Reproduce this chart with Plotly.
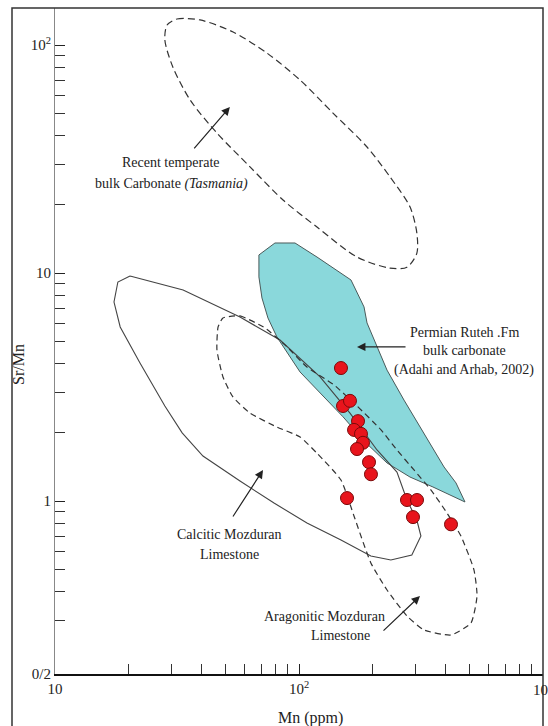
import numpy as np
import plotly.graph_objects as go

# ---- data (Mn in ppm, Sr/Mn ratio) ----
sample_mn = [148.6, 151.5, 161.8, 174.5, 168.1, 179.5, 182.9, 172.9, 193.6, 197.2,
             157.3, 277.1, 304.5, 293.2, 419.7]
sample_srmn = [3.83, 2.61, 2.75, 2.24, 2.05, 1.97, 1.80, 1.69, 1.48, 1.31,
               1.03, 1.01, 1.01, 0.85, 0.79]

# Recent temperate bulk carbonate (Tasmania) field
tas_mn = [28.8, 31.6, 39.3, 53.7, 73.9, 101, 137.8, 190, 236, 285, 304, 304, 277, 236,
          172.9, 118.5, 86, 63, 46.1, 35.8, 30.4, 28.2, 28.8]
tas_srmn = [122.4, 130, 128.8, 114, 92.2, 70.2, 50.3, 35.7, 26.4, 19.5, 15.0, 12.2, 10.6,
            10.5, 11.75, 15.9, 20.9, 29.2, 41.1, 57.4, 80.1, 105.2, 122.4]

# Permian Ruteh Fm bulk carbonate field
rut_mn = [68.5, 79.7, 96.3, 118.5, 163.3, 184.7, 190, 203, 229.5, 269.4, 325, 393, 440, 479,
          354, 285, 229.5, 186.5, 151.5, 122, 101, 81.2, 74.6, 70.5, 68.5, 68.5]
rut_srmn = [12.0, 13.54, 13.54, 11.75, 9.32, 7.10, 6.04, 5.08, 3.75, 2.77, 1.99, 1.41, 1.20, 0.99,
            1.152, 1.274, 1.468, 1.815, 2.34, 2.98, 3.68, 5.24, 6.35, 7.77, 9.61, 12.0]

# Calcitic Mozduran limestone field
cal_mn = [20.3, 33.5, 57.3, 83.6, 122, 161.8, 208.8, 252, 277, 304, 316, 290, 238, 197,
          148.6, 107.8, 79.0, 57.3, 40.4, 33.2, 28.2, 22.3, 18.5, 17.45, 18.1, 20.3]
cal_srmn = [9.70, 8.42, 6.41, 5.08, 3.50, 2.43, 1.674, 1.34, 1.01, 0.825, 0.702, 0.58, 0.551, 0.574,
            0.674, 0.80, 0.98, 1.224, 1.575, 1.99, 2.61, 4.03, 5.80, 7.46, 9.13, 9.70]

# Aragonitic Mozduran limestone field
ara_mn = [48.8, 57.3, 72.6, 89.3, 107.8, 139.1, 172.9, 216.8, 252, 296, 347.5, 404, 461, 521.5,
          536.5, 507, 419.7, 325, 277, 229.5, 197, 168, 148.6, 118.5, 101, 81.2, 63.0, 53.6,
          48.8, 46.1, 46.6, 48.8]
ara_srmn = [6.35, 6.48, 5.74, 4.74, 3.87, 3.23, 2.61, 2.05, 1.674, 1.368, 1.117, 0.886, 0.702, 0.498,
            0.383, 0.2917, 0.2584, 0.2718, 0.313, 0.407, 0.535, 0.86, 1.236, 1.62, 1.91, 2.11, 2.43,
            2.86, 3.50, 4.60, 5.80, 6.35]

y_bottom = 10 ** -0.7588
y_tickvals = [y_bottom, 1, 10, 100]
y_ticktext = ["0/2", "1", "10", "10<sup>2</sup>"]
y_minor = [0.3, 0.4, 0.5, 0.6, 0.7, 0.8, 0.9, 2, 3, 4, 5, 6, 7, 8, 9,
           20, 30, 40, 50, 60, 70, 80, 90]
x_tickvals = [10, 100, 1000]
x_ticktext = ["10", "10<sup>2</sup>", "10<sup>3</sup>"]
x_minor = [20, 30, 40, 50, 60, 70, 80, 90, 200, 300, 400, 500, 600, 700, 800, 900]

SERIF = "Liberation Serif, Times New Roman, serif"

fig = go.Figure()

fig.add_trace(go.Scatter(x=rut_mn, y=rut_srmn, mode="lines", fill="toself",
                         fillcolor="#8ad8db", line=dict(color="#4a5a5a", width=1),
                         hoverinfo="skip", showlegend=False))
fig.add_trace(go.Scatter(x=cal_mn, y=cal_srmn, mode="lines",
                         line=dict(color="#444444", width=1.1),
                         hoverinfo="skip", showlegend=False))
fig.add_trace(go.Scatter(x=ara_mn, y=ara_srmn, mode="lines",
                         line=dict(color="#333333", width=1.2, dash="6px,4px", shape="spline",
                                   smoothing=0.5),
                         hoverinfo="skip", showlegend=False))
fig.add_trace(go.Scatter(x=tas_mn, y=tas_srmn, mode="lines",
                         line=dict(color="#333333", width=1.2, dash="7px,4px", shape="spline",
                                   smoothing=0.8),
                         hoverinfo="skip", showlegend=False))
fig.add_trace(go.Scatter(x=sample_mn, y=sample_srmn, mode="markers",
                         marker=dict(size=13, color="#e8141c",
                                     line=dict(color="#7a0a0a", width=1)),
                         showlegend=False))

annots = []
def label(text, mn, sr, size=14):
    annots.append(dict(x=np.log10(mn), y=np.log10(sr), xref="x", yref="y", text=text,
                       showarrow=False, xanchor="center", yanchor="middle",
                       font=dict(family=SERIF, size=size, color="#222222")))

def arrow(mn, sr, ax, ay):
    annots.append(dict(x=np.log10(mn), y=np.log10(sr), xref="x", yref="y", text="",
                       showarrow=True, ax=ax, ay=ay, arrowhead=2, arrowsize=1.4,
                       arrowwidth=1.2, arrowcolor="#222222", standoff=0))

label("Recent temperate", 29.9, 30.4)
label("bulk Carbonate <i>(Tasmania)</i>", 29.9, 24.6)
label("Permian Ruteh .Fm", 474.6, 5.51)
label("bulk carbonate", 474.6, 4.55)
label("(Adahi and Arhab, 2002)", 474.6, 3.75)
label("Calcitic Mozduran", 51.7, 0.71)
label("Limestone", 51.7, 0.58)
label("Aragonitic Mozduran", 127.8, 0.313)
label("Limestone", 148.6, 0.258)

arrow(52.1, 53.5, -37, 43)
arrow(172.9, 4.74, 50, 0)
arrow(71.2, 1.368, -31, 48)
arrow(313.3, 0.383, -38, 36)

# right-end x tick label (clipped by the page edge, as in the original)
annots.append(dict(x=1.0, y=(674 - 689) / 666, xref="paper", yref="paper",
                   text="10<sup>3</sup>", showarrow=False, xanchor="center", yanchor="middle",
                   font=dict(family=SERIF, size=15, color="#222222")))

# axis titles
annots.append(dict(x=(18 - 55) / 488, y=(674 - 365) / 666, xref="paper", yref="paper",
                   text="Sr/Mn", textangle=-90, showarrow=False, xanchor="center",
                   yanchor="middle", font=dict(family=SERIF, size=16, color="#222222")))
annots.append(dict(x=(310 - 55) / 488, y=(674 - 718) / 666, xref="paper", yref="paper",
                   text="Mn (ppm)", showarrow=False, xanchor="center", yanchor="middle",
                   font=dict(family=SERIF, size=16, color="#222222")))

fig.update_layout(
    width=548, height=726,
    margin=dict(l=55, r=5, t=8, b=52, autoexpand=False),
    paper_bgcolor="white", plot_bgcolor="white",
    annotations=annots,
    shapes=[dict(type="rect", xref="paper", yref="paper",
                 x0=(12 - 55) / 488, x1=1.0, y0=-0.2, y1=1.0,
                 line=dict(color="#333333", width=1.5), layer="above")],
    xaxis=dict(type="log", range=[1, 3], showgrid=False, zeroline=False,
               showline=True, linecolor="#111111", linewidth=2,
               ticks="inside", ticklen=10, tickwidth=1.3, tickcolor="#222222",
               tickmode="array", tickvals=x_tickvals, ticktext=x_ticktext,
               tickfont=dict(family=SERIF, size=15, color="#222222"),
               minor=dict(ticks="inside", ticklen=10, tickwidth=1.1, tickcolor="#333333",
                          tickmode="array", tickvals=x_minor, showgrid=False)),
    yaxis=dict(type="log", range=[-0.7588, 2.1623], showgrid=False, zeroline=False,
               showline=True, linecolor="#888888", linewidth=1,
               ticks="inside", ticklen=10, tickwidth=1.3, tickcolor="#222222",
               tickmode="array", tickvals=y_tickvals, ticktext=y_ticktext,
               tickfont=dict(family=SERIF, size=15, color="#222222"),
               minor=dict(ticks="inside", ticklen=10, tickwidth=1.1, tickcolor="#333333",
                          tickmode="array", tickvals=y_minor, showgrid=False)),
)

fig.write_html("out.html")
